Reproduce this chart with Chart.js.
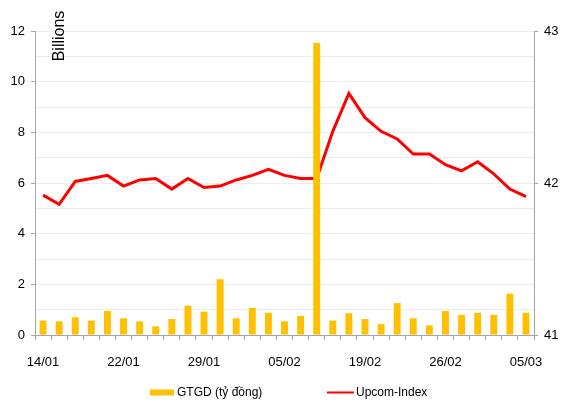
<!DOCTYPE html>
<html>
<head>
<meta charset="utf-8">
<script src="https://cdn.jsdelivr.net/npm/chart.js@4.4.1/dist/chart.umd.min.js"></script>
<style>
  html, body { margin: 0; padding: 0; background: #fff; }
  #wrap { width: 561px; height: 402px; position: relative; }
</style>
</head>
<body>
<div id="wrap"><canvas id="chart"></canvas></div>
<script>
// Dữ liệu phiên giao dịch
const dates = ['14/01','15/01','16/01','17/01','18/01','22/01','23/01','24/01','25/01','28/01',
               '29/01','30/01','31/01','01/02','04/02','05/02','06/02','07/02','08/02','18/02',
               '19/02','20/02','21/02','22/02','25/02','26/02','27/02','28/02','01/03','04/03','05/03'];
const shownDates = ['14/01','22/01','29/01','05/02','19/02','26/02','05/03'];

// GTGD (tỷ đồng), trục trái
const gtgd = [0.57,0.54,0.70,0.57,0.95,0.66,0.54,0.34,0.63,1.16,
              0.92,2.20,0.66,1.07,0.88,0.54,0.75,11.53,0.57,0.86,
              0.63,0.43,1.26,0.66,0.38,0.95,0.79,0.88,0.79,1.63,0.88];

// Upcom-Index, trục phải
const upcom = [41.92,41.86,42.01,42.03,42.05,41.98,42.02,42.03,41.96,42.03,
               41.97,41.98,42.02,42.05,42.09,42.05,42.03,42.03,42.34,42.59,
               42.43,42.34,42.29,42.19,42.19,42.12,42.08,42.14,42.06,41.96,41.91];

const leftTicks = [0, 2, 4, 6, 8, 10, 12];
const rightTicks = [41, 42, 43];

const FONT = "'Liberation Sans', Arial, sans-serif";
const AXIS = '#a6a6a6';

// Chữ "Billions" xoay dọc
const billionsLabel = {
    id: 'billionsLabel',
    afterDraw(chart) {
        const ctx = chart.ctx;
        ctx.save();
        ctx.translate(chart.chartArea.left + 25, chart.chartArea.top + 5);
        ctx.rotate(-Math.PI / 2);
        ctx.font = '16px ' + FONT;
        ctx.fillStyle = '#000';
        ctx.textAlign = 'center';
        ctx.textBaseline = 'middle';
        ctx.fillText('Billions', 0, 0);
        ctx.restore();
    }
};

// Chú thích phía dưới
const bottomLegend = {
    id: 'bottomLegend',
    afterDraw(chart) {
        const ctx = chart.ctx;
        const y = 392.5;
        const ds = chart.data.datasets;
        ctx.save();
        ctx.font = '12px ' + FONT;
        ctx.textBaseline = 'middle';

        ctx.fillStyle = ds[0].backgroundColor;
        ctx.fillRect(150, y - 3, 24, 6);
        ctx.fillStyle = '#000';
        ctx.fillText(ds[0].label, 177, y);

        ctx.strokeStyle = ds[1].borderColor;
        ctx.lineWidth = 2;
        ctx.beginPath();
        ctx.moveTo(327, y);
        ctx.lineTo(354, y);
        ctx.stroke();
        ctx.fillText(ds[1].label, 356, y);
        ctx.restore();
    }
};

new Chart(document.getElementById('chart'), {
    type: 'bar',
    data: {
        labels: dates,
        datasets: [
            {
                label: 'GTGD (tỷ đồng)',
                data: gtgd,
                backgroundColor: '#FFC000',
                categoryPercentage: 1,
                barPercentage: 0.43,
                yAxisID: 'y',
                order: 0
            },
            {
                type: 'line',
                label: 'Upcom-Index',
                data: upcom,
                borderColor: '#FF0000',
                backgroundColor: '#FF0000',
                borderWidth: 3,
                pointRadius: 0,
                tension: 0,
                yAxisID: 'y1',
                order: 1
            }
        ]
    },
    options: {
        responsive: true,
        maintainAspectRatio: false,
        animation: false,
        layout: { padding: { top: 31, bottom: 32, left: 0, right: 0 } },
        plugins: {
            legend: { display: false },
            tooltip: { enabled: false }
        },
        scales: {
            x: {
                offset: true,
                grid: {
                    offset: true,
                    drawOnChartArea: false,
                    tickLength: 5,
                    tickColor: AXIS
                },
                border: { color: AXIS },
                ticks: {
                    autoSkip: false,
                    maxRotation: 0,
                    padding: 15,
                    color: '#000',
                    font: { family: FONT, size: 13 },
                    callback: function(v, i) {
                        const l = dates[i];
                        return shownDates.includes(l) && i % 5 === 0 ? l : '';
                    }
                },
                afterFit: s => { s.height = 35; }
            },
            y: {
                position: 'left',
                min: 0,
                max: 12,
                grid: {
                    color: '#ececec',
                    tickLength: 4,
                    tickColor: c => leftTicks.includes(c.tick.value) ? AXIS : 'rgba(0,0,0,0)'
                },
                border: { color: AXIS },
                ticks: {
                    stepSize: 0.5,
                    padding: 6,
                    color: '#000',
                    font: { family: FONT, size: 13 },
                    callback: v => leftTicks.includes(v) ? v : ''
                },
                afterFit: s => { s.width = 35; }
            },
            y1: {
                position: 'right',
                min: 41,
                max: 43,
                grid: {
                    drawOnChartArea: false,
                    tickLength: 4,
                    tickColor: AXIS
                },
                border: { color: AXIS },
                ticks: {
                    stepSize: 1,
                    padding: 6,
                    color: '#000',
                    font: { family: FONT, size: 13 },
                    callback: v => rightTicks.includes(v) ? v : ''
                },
                afterFit: s => { s.width = 27; }
            }
        }
    },
    plugins: [billionsLabel, bottomLegend]
});
</script>
</body>
</html>
